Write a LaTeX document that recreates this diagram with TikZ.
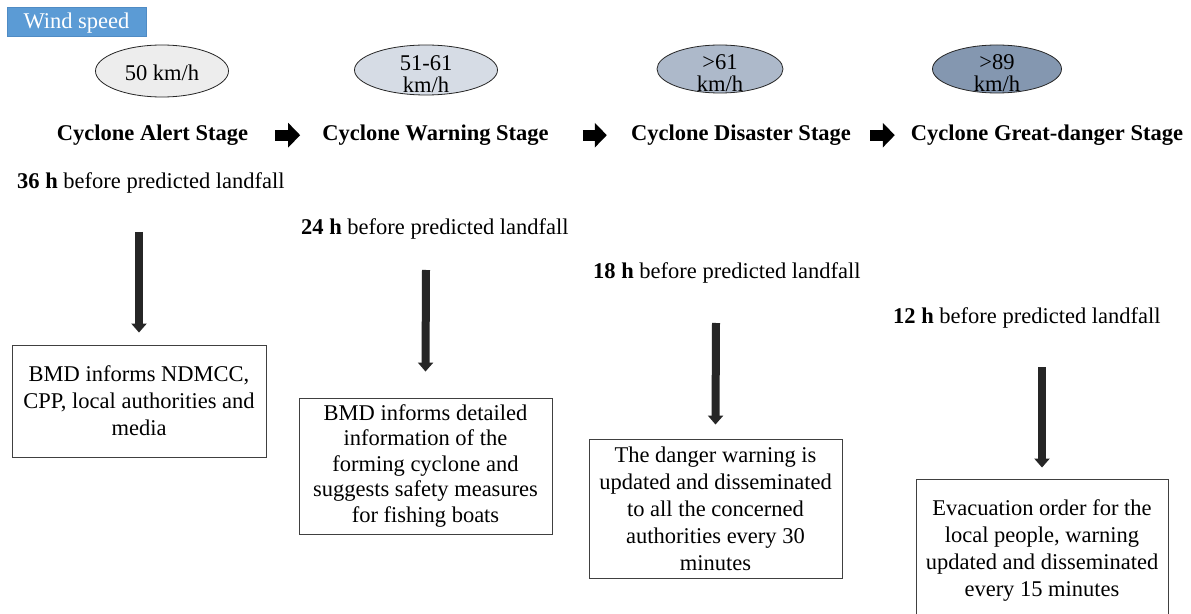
\documentclass[tikz,border=0pt]{standalone}
\usepackage{fontspec}
\setmainfont{Liberation Serif}
\usetikzlibrary{shapes.geometric,arrows.meta}

\definecolor{windblue}{HTML}{5B9BD5}
\definecolor{windedge}{HTML}{4F8BC4}
\definecolor{speedA}{HTML}{EDEDED}
\definecolor{speedB}{HTML}{D6DCE5}
\definecolor{speedC}{HTML}{ADB9CA}
\definecolor{speedD}{HTML}{8497B0}
\definecolor{boxedge}{HTML}{404040}
\definecolor{arrowdark}{HTML}{262626}

\tikzset{
  every node/.style={font=\fontsize{22.5bp}{27bp}\selectfont},
  tagbox/.style={fill=windblue, draw=windedge, line width=0.75bp, text=white,
    minimum width=139bp, minimum height=29bp, inner sep=0,
    text height=15bp, text depth=1.5bp},
  speed/.style={ellipse, draw=black!85, line width=0.8bp, inner sep=0},
  speedtext/.style={align=center, inner sep=0,
    font=\fontsize{22.5bp}{22bp}\selectfont},
  stagetitle/.style={anchor=base, inner sep=0,
    font=\fontsize{22.5bp}{27bp}\selectfont\bfseries},
  timelabel/.style={anchor=base west, inner sep=0},
  infobox/.style={draw=boxedge, line width=0.9bp, align=center, inner sep=0},
  downarrow/.style={line width=8bp, draw=arrowdark,
    -{Triangle[length=9bp, width=15bp]}},
  rightarrow/.style={line width=11bp, draw=black,
    -{Triangle[length=12bp, width=24bp]}},
}

\begin{document}
\begin{tikzpicture}[x=1bp, y=-1bp]
  \useasboundingbox (0,0) rectangle (1191,614);
  \clip (0,0) rectangle (1191,614);
  \fill[white] (0,0) rectangle (1191,614);

  % legend tag
  \node[tagbox] (wind) at (76.5,21.5) {Wind speed};

  % wind speed ellipses
  \node[speed, fill=speedA, minimum width=133bp, minimum height=52bp] (e1) at (162,71) {};
  \node[speed, fill=speedB, minimum width=143bp, minimum height=50bp] (e2) at (426,70) {};
  \node[speed, fill=speedC, minimum width=126bp, minimum height=48bp] (e3) at (720,69) {};
  \node[speed, fill=speedD, minimum width=129bp, minimum height=48bp] (e4) at (997,69) {};
  \node[speedtext] (e1t) at (162,72.5) {50 km/h};
  \node[speedtext] (e2t) at (426,74.5) {51-61\\km/h};
  \node[speedtext] (e3t) at (720,73.5) {>61\\km/h};
  \node[speedtext] (e4t) at (997,73.5) {>89\\km/h};

  % stage titles
  \node[stagetitle] (s1) at (152.5,140.5) {Cyclone Alert Stage};
  \node[stagetitle] (s2) at (435.5,140.5) {Cyclone Warning Stage};
  \node[stagetitle] (s3) at (741,140.5) {Cyclone Disaster Stage};
  \node[stagetitle] (s4) at (1047,140.5) {Cyclone Great-danger Stage};

  \draw[rightarrow] ([xshift=27bp]s1.east) -- ([xshift=-22bp]s2.west);
  \draw[rightarrow] ([xshift=34bp]s2.east) -- ([xshift=-24bp]s3.west);
  \draw[rightarrow] ([xshift=19bp]s3.east) -- ([xshift=-16bp]s4.west);

  % lead times
  \node[timelabel] (t1) at (17,188.5) {\textbf{36 h} before predicted landfall};
  \node[timelabel] (t2) at (301,234.5) {\textbf{24 h} before predicted landfall};
  \node[timelabel] (t3) at (593,278.5) {\textbf{18 h} before predicted landfall};
  \node[timelabel] (t4) at (893,323.5) {\textbf{12 h} before predicted landfall};

  % actions
  \node[infobox, minimum width=254bp, minimum height=112bp] (b1) at (139,401)
    {BMD informs NDMCC,\\CPP, local authorities and\\media};
  \node[infobox, minimum width=253bp, minimum height=136bp,
    font=\fontsize{22.5bp}{25.5bp}\selectfont] (b2) at (425.5,466)
    {BMD informs detailed\\information of the\\forming cyclone and\\suggests safety measures\\for fishing boats};
  \node[infobox, minimum width=253bp, minimum height=139bp] (b3) at (715.5,508.5)
    {The danger warning is\\updated and disseminated\\to all the concerned\\authorities every 30\\minutes};
  \node[infobox, minimum width=252bp, minimum height=144bp] (b4) at (1042,551)
    {Evacuation order for the\\local people, warning\\updated and disseminated\\every 15 minutes};

  % arrows down to the actions
  \coordinate (a1) at (139,232);
  \coordinate (a2) at (426,270);
  \coordinate (a3) at (716,323);
  \coordinate (a4) at (1042,367);
  \draw[downarrow] (a1) -- ([yshift=12bp]b1.north);
  \draw[downarrow] (a2) -- ([yshift=26bp]b2.north);
  \draw[downarrow] (a3) -- ([yshift=14bp]b3.north);
  \draw[downarrow] (a4) -- ([yshift=11bp]b4.north);
\end{tikzpicture}
\end{document}
